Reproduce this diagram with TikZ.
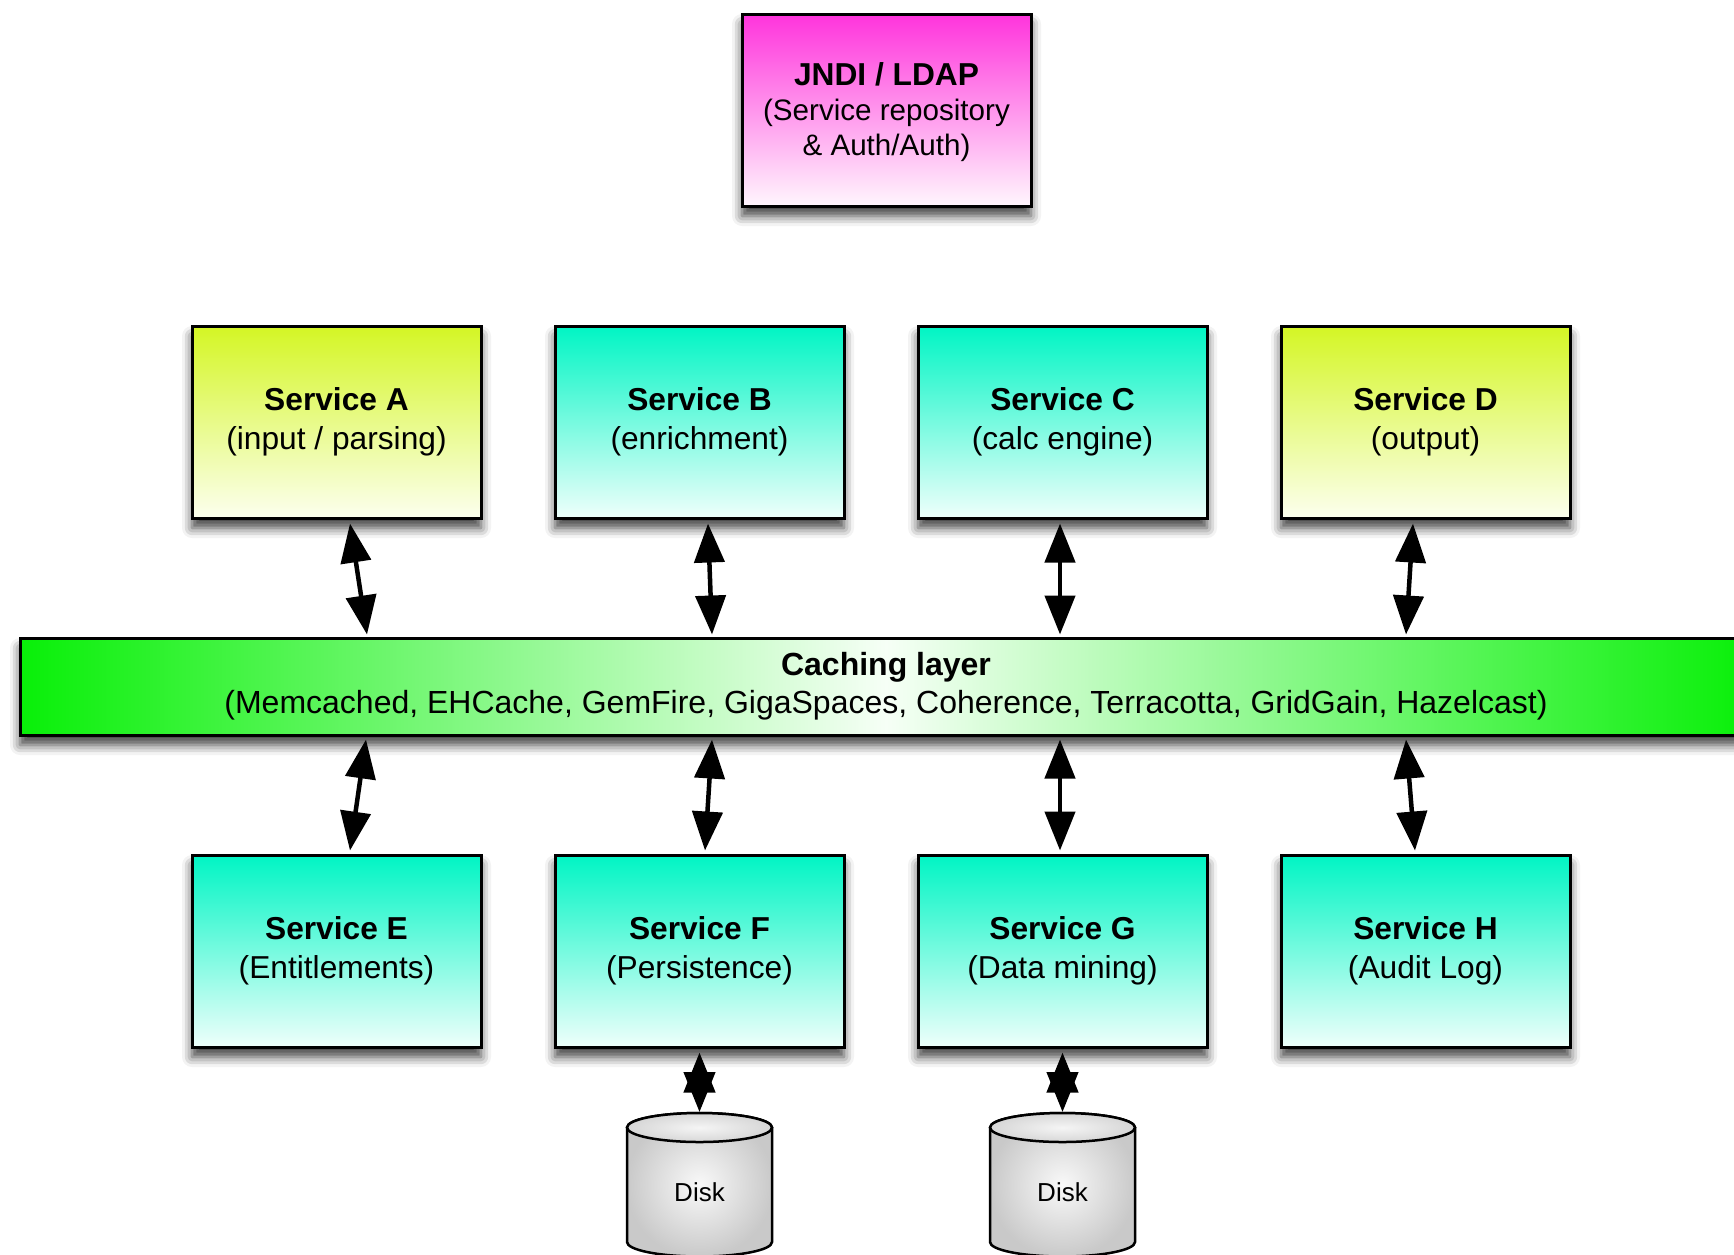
\documentclass[tikz,border=0pt]{standalone}
\usepackage{fontspec}
\setmainfont{Liberation Sans}
\usetikzlibrary{arrows.meta,calc,shadows.blur}

\definecolor{limeTop}{RGB}{212,246,36}
\definecolor{limeBot}{RGB}{252,255,238}
\definecolor{aquaTop}{RGB}{0,245,196}
\definecolor{aquaBot}{RGB}{238,255,251}
\definecolor{pinkTop}{RGB}{255,52,220}
\definecolor{pinkBot}{RGB}{255,246,253}
\definecolor{cacheEdge}{RGB}{8,240,8}
\definecolor{cacheMid}{RGB}{246,255,246}

\tikzset{
  softshadow/.style={blur shadow={shadow xshift=0pt, shadow yshift=-10pt,
    shadow blur radius=10pt, shadow opacity=75}},
  boxbase/.style={draw=black, line width=3pt, minimum width=289pt, minimum height=192pt,
    align=center, inner sep=0pt,
    font=\fontsize{31.7}{38.5}\selectfont, softshadow},
  limebox/.style={boxbase, top color=limeTop, bottom color=limeBot, middle color=limeTop!50!limeBot},
  aquabox/.style={boxbase, top color=aquaTop, bottom color=aquaBot, middle color=aquaTop!50!aquaBot},
  pinkbox/.style={boxbase, top color=pinkTop, bottom color=pinkBot, middle color=pinkTop!50!pinkBot},
  jnditext/.style={align=center, inner sep=0pt, font=\fontsize{29.6}{35}\selectfont},
  cachebar/.style={draw=black, line width=3pt, minimum width=1732pt, minimum height=97pt,
    align=center, inner sep=0pt, font=\fontsize{32}{38}\selectfont,
    left color=cacheEdge, right color=cacheEdge, middle color=cacheMid, softshadow},
  dbl/.style={line width=4.5pt, {Triangle[length=39pt,width=30pt]}-{Triangle[length=39pt,width=30pt]}},
  dbldisk/.style={line width=4.5pt, {Triangle[length=40pt,width=31pt]}-{Triangle[length=40pt,width=31pt]}},
  disklabel/.style={font=\fontsize{26}{30}\selectfont, inner sep=0pt},
  diskbody/.style={draw=black, line width=2.5pt, inner color=gray!5, outer color=gray!42},
  disktop/.style={draw=black, line width=2.5pt, inner color=gray!8, outer color=gray!32}
}

\begin{document}
\begin{tikzpicture}[x=1pt,y=-1pt]
\useasboundingbox (0,0) rectangle (1734,1254);
\clip (0,0) rectangle (1734,1254);

% directory service
\node[pinkbox] (jndi) at (886.5,110) {};
\node[jnditext] (jndilabel) at ($(jndi.center)+(0,2)$) {{\fontsize{31.7}{35}\selectfont\bfseries JNDI / LDAP}\\(Service repository\\\& Auth/Auth)};

% upper services
\node[limebox] (sa) at (336.5,422) {\textbf{Service A}\\(input / parsing)};
\node[aquabox] (sb) at (699.5,422) {\textbf{Service B}\\(enrichment)};
\node[aquabox] (sc) at (1062.5,422) {\textbf{Service C}\\(calc engine)};
\node[limebox] (sd) at (1425.5,422) {\textbf{Service D}\\(output)};

% shared cache
\node[cachebar] (cache) at (886,686.5) {\textbf{Caching layer}\\(Memcached, EHCache, GemFire, GigaSpaces, Coherence, Terracotta, GridGain, Hazelcast)};

% lower services
\node[aquabox] (se) at (336.5,951) {\textbf{Service E}\\(Entitlements)};
\node[aquabox] (sf) at (699.5,951) {\textbf{Service F}\\(Persistence)};
\node[aquabox] (sg) at (1062.5,951) {\textbf{Service G}\\(Data mining)};
\node[aquabox] (sh) at (1425.5,951) {\textbf{Service H}\\(Audit Log)};

% disks
\foreach \cx/\nm in {699.5/d1, 1062.5/d2}{
  \path[diskbody] (\cx-72.5,1127.5) -- (\cx-72.5,1242)
     arc[start angle=180, end angle=360, x radius=72.5pt, y radius=14.5pt]
     -- (\cx+72.5,1127.5)
     arc[start angle=0, end angle=180, x radius=72.5pt, y radius=14.5pt] -- cycle;
  \path[disktop] (\cx,1127.5) ellipse[x radius=72.5pt, y radius=14.5pt];
  \coordinate (\nm top) at (\cx,1112);
  \node[disklabel] (\nm) at (\cx,1192) {Disk};
}

% upper services <-> cache
\draw[dbl] ($(sa.south)+(13.5,4)$) -- ($(sa.south |- cache.north)+(30.5,-2)$);
\draw[dbl] ($(sb.south)+(8.5,4)$)  -- ($(sb.south |- cache.north)+(12.5,-2)$);
\draw[dbl] ($(sc.south)+(-2.5,4)$) -- ($(sc.south |- cache.north)+(-2.5,-2)$);
\draw[dbl] ($(sd.south)+(-12.5,4)$) -- ($(sd.south |- cache.north)+(-19.5,-2)$);

% cache <-> lower services
\draw[dbl] ($(se.north |- cache.south)+(29.5,3)$) -- ($(se.north)+(13.5,-3)$);
\draw[dbl] ($(sf.north |- cache.south)+(12.5,3)$) -- ($(sf.north)+(5.5,-3)$);
\draw[dbl] ($(sg.north |- cache.south)+(-2.5,3)$) -- ($(sg.north)+(-2.5,-3)$);
\draw[dbl] ($(sh.north |- cache.south)+(-19.5,3)$) -- ($(sh.north)+(-10.5,-3)$);

% services <-> disks
\draw[dbldisk] ($(sf.south)+(0,4)$) -- (d1top);
\draw[dbldisk] ($(sg.south)+(0,4)$) -- (d2top);
\end{tikzpicture}
\end{document}
